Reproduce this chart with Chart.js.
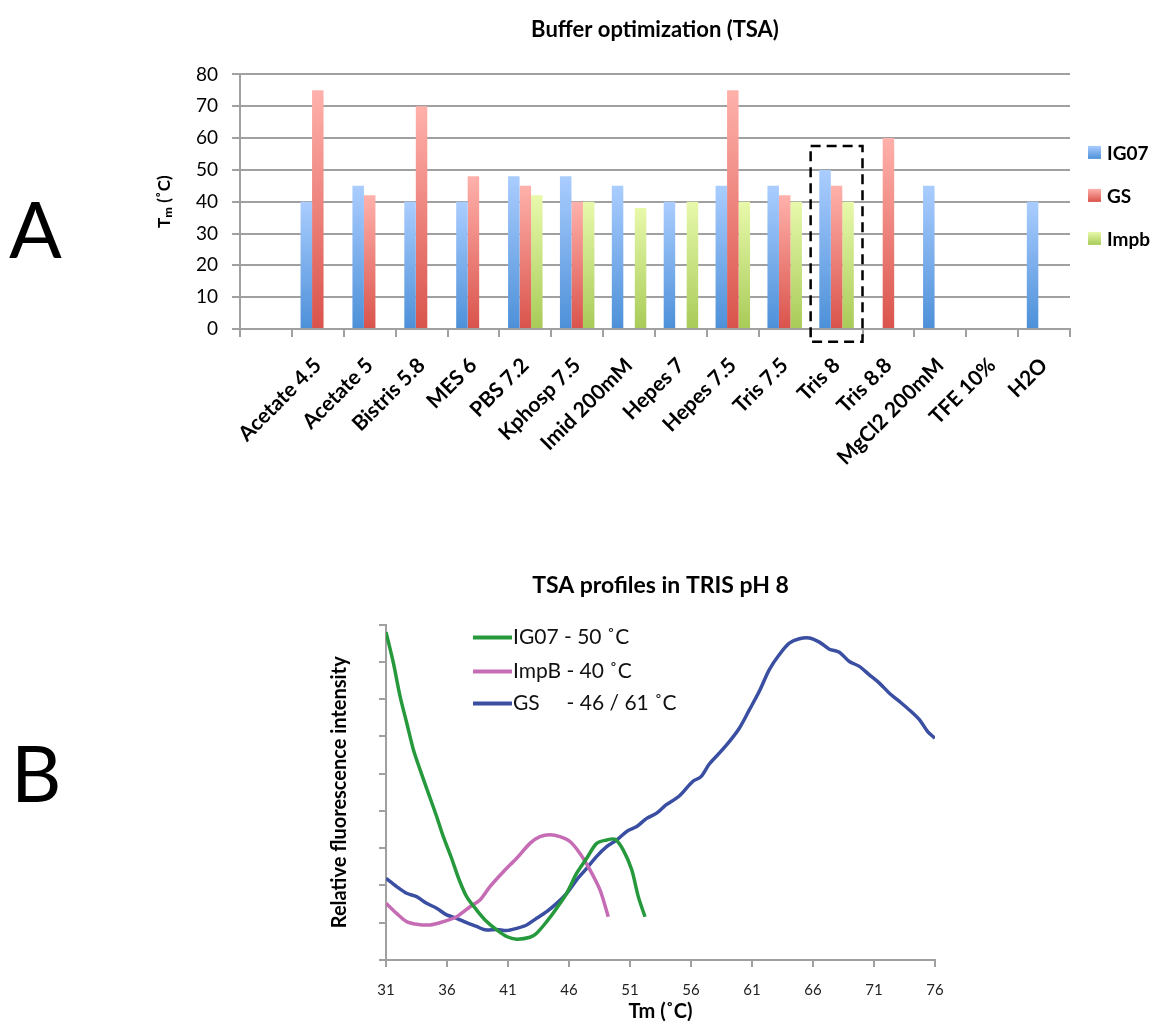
<!DOCTYPE html>
<html>
<head>
<meta charset="utf-8">
<script src="https://cdn.jsdelivr.net/npm/chart.js@4.4.1/dist/chart.umd.min.js"></script>
<style>
  html, body { margin: 0; padding: 0; background: #ffffff; }
  body { width: 1160px; height: 1024px; position: relative; overflow: hidden; font-family: Lato, "Open Sans", sans-serif; }
  .panel-letter { position: absolute; font-family: Lato, sans-serif; font-size: 78px; line-height: 1; color: #000; }
  #wrapA { position: absolute; left: 0; top: 0; width: 1160px; height: 480px; }
  #wrapB { position: absolute; left: 0; top: 480px; width: 1160px; height: 544px; }
</style>
</head>
<body>
<div class="panel-letter" style="left:9px; top:189px;">A</div>
<div class="panel-letter" style="left:11px; top:733px;">B</div>
<div id="wrapA"><canvas id="chartA" width="1160" height="480"></canvas></div>
<div id="wrapB"><canvas id="chartB" width="1160" height="544"></canvas></div>
<script>
// ---------- Panel A data ----------
const categories = ['', 'Acetate 4.5', 'Acetate 5', 'Bistris 5.8', 'MES 6', 'PBS 7.2', 'Kphosp 7.5', 'Imid 200mM', 'Hepes 7', 'Hepes 7.5', 'Tris 7.5', 'Tris 8', 'Tris 8.8', 'MgCl2 200mM', 'TFE 10%', 'H2O'];
const ig07Tm = [null, 40, 45, 40, 40, 48, 48, 45, 40, 45, 45, 50, null, 45, null, 40];
const gsTm   = [null, 75, 42, 70, 48, 45, 40, null, null, 75, 42, 45, 60, null, null, null];
const impbTm = [null, null, null, null, null, 42, 40, 38, 40, 40, 40, 40, null, null, null, null];
const seriesNamesA = ['IG07', 'GS', 'Impb'];
const highlightCategory = 'Tris 8';
const highlightRange = [57.5, -4];

// ---------- Panel B data ----------
const ig07Temp = [31, 31.6, 32.15, 32.7, 33.24, 33.79, 34.47, 35.15, 35.7, 36.35, 37.0, 37.61, 38.43, 39.25, 40.07, 40.89, 41.71, 42.8, 43.35, 44.17, 44.99, 45.81, 46.63, 47.45, 48.27, 49.09, 49.77, 50.45, 51.14, 51.68, 52.23];
const ig07Fluo = [8.8, 7.98, 7.08, 6.36, 5.65, 5.11, 4.48, 3.85, 3.31, 2.75, 2.15, 1.70, 1.34, 1.03, 0.81, 0.63, 0.56, 0.61, 0.72, 1.03, 1.39, 1.79, 2.33, 2.73, 3.13, 3.22, 3.24, 2.95, 2.42, 1.70, 1.16];
const impbTemp = [31, 31.87, 32.69, 33.51, 34.61, 35.7, 36.79, 37.89, 38.7, 39.52, 40.62, 41.71, 42.8, 43.62, 44.44, 45.26, 46.08, 46.9, 47.72, 48.54, 49.22];
const impbFluo = [1.52, 1.25, 1.03, 0.96, 0.94, 1.03, 1.16, 1.43, 1.61, 1.97, 2.37, 2.73, 3.13, 3.31, 3.36, 3.31, 3.18, 2.86, 2.42, 1.88, 1.16];
const gsTemp = [31, 31.87, 32.69, 33.51, 34.33, 35.15, 35.97, 36.79, 37.61, 38.43, 39.11, 40.07, 40.89, 41.71, 42.53, 43.35, 44.17, 44.99, 45.81, 46.63, 47.45, 48.27, 49.09, 49.91, 50.73, 51.55, 52.37, 53.19, 53.95, 55.04, 56.14, 56.82, 57.5, 58.32, 59.14, 59.96, 60.78, 61.6, 62.42, 63.23, 64.06, 64.88, 65.7, 66.52, 67.34, 68.16, 68.98, 69.8, 70.62, 71.44, 72.26, 73.08, 73.9, 74.72, 75.4, 76];
const gsFluo = [2.19, 1.97, 1.79, 1.70, 1.52, 1.39, 1.21, 1.12, 1.00, 0.90, 0.81, 0.82, 0.79, 0.85, 0.94, 1.12, 1.30, 1.52, 1.79, 2.15, 2.46, 2.78, 3.04, 3.22, 3.45, 3.58, 3.80, 3.94, 4.16, 4.40, 4.79, 4.92, 5.26, 5.55, 5.86, 6.22, 6.71, 7.21, 7.79, 8.19, 8.50, 8.62, 8.64, 8.53, 8.34, 8.26, 8.01, 7.88, 7.65, 7.43, 7.16, 6.94, 6.71, 6.45, 6.13, 5.95];
const seriesNamesB = ['IG07 - 50 ˚C', 'ImpB - 40 ˚C', 'GS     - 46 / 61 ˚C'];
const xTicksB = [31, 36, 41, 46, 51, 56, 61, 66, 71, 76];

// ---------- helpers ----------
const FONT = 'Lato, "Open Sans", sans-serif';
function barGradient(topColor, bottomColor) {
  return function (ctx) {
    const chart = ctx.chart;
    if (!chart.chartArea || ctx.type !== 'data' || ctx.raw == null) return bottomColor;
    const ys = chart.scales.y;
    const y0 = ys.getPixelForValue(ctx.raw);
    const y1 = ys.getPixelForValue(0);
    if (!isFinite(y0) || !isFinite(y1) || y0 === y1) return bottomColor;
    const g = chart.ctx.createLinearGradient(0, y0, 0, y1);
    g.addColorStop(0, topColor);
    g.addColorStop(1, bottomColor);
    return g;
  };
}
const barTopColors = ['#aacdff', '#ffb1ab', '#e8f9ab'];
const barBottomColors = ['#4d90d8', '#d9534b', '#a8cb58'];

function alignChartArea(chart, left, right) {
  const a = chart.chartArea;
  const p = chart.config.options.layout.padding;
  p.left += left - a.left;
  p.right += a.right - right;
  chart.update();
}

const dashedBoxPlugin = {
  id: 'dashedBox',
  afterDraw(chart) {
    const xs = chart.scales.x, ys = chart.scales.y;
    const idx = categories.indexOf(highlightCategory);
    if (idx < 0) return;
    const cx = xs.getPixelForValue(idx);
    const half = (xs.getPixelForValue(1) - xs.getPixelForValue(0)) / 2;
    const top = ys.getPixelForValue(highlightRange[0]);
    const bottom = ys.getPixelForValue(highlightRange[1]);
    const c = chart.ctx;
    c.save();
    c.strokeStyle = '#000';
    c.lineWidth = 2.5;
    c.setLineDash([10, 6]);
    c.strokeRect(cx - half, top, half * 2, bottom - top);
    c.restore();
  }
};

const sideLegendPlugin = {
  id: 'sideLegend',
  afterDraw(chart) {
    const c = chart.ctx;
    const area = chart.chartArea;
    const rows = [78, 121, 164];
    c.save();
    chart.data.datasets.forEach((ds, i) => {
      const y = area.top + rows[i];
      const bx = area.right + 18;
      const g = c.createLinearGradient(0, y - 6.5, 0, y + 6.5);
      g.addColorStop(0, barTopColors[i]);
      g.addColorStop(1, barBottomColors[i]);
      c.fillStyle = g;
      c.fillRect(bx, y - 6.5, 13, 13);
      c.fillStyle = '#000';
      c.font = 'bold 19px ' + FONT;
      c.textBaseline = 'middle';
      c.textAlign = 'left';
      c.fillText(ds.label, bx + 19, y + 1);
    });
    c.restore();
  }
};

const chartA = new Chart(document.getElementById('chartA'), {
  type: 'bar',
  data: {
    labels: categories,
    datasets: [
      { label: seriesNamesA[0], data: ig07Tm, backgroundColor: barGradient(barTopColors[0], barBottomColors[0]) },
      { label: seriesNamesA[1], data: gsTm, backgroundColor: barGradient(barTopColors[1], barBottomColors[1]) },
      { label: seriesNamesA[2], data: impbTm, backgroundColor: barGradient(barTopColors[2], barBottomColors[2]) }
    ]
  },
  options: {
    responsive: false,
    animation: false,
    layout: { padding: { left: 150, right: 90, top: 0, bottom: 0 } },
    datasets: { bar: { categoryPercentage: 0.665, barPercentage: 1.0, borderWidth: 0 } },
    plugins: {
      title: {
        display: true, fullSize: false,
        text: 'Buffer optimization (TSA)',
        color: '#000',
        font: { family: FONT, size: 22, weight: 'bold', lineHeight: 1.2 },
        padding: { top: 17, bottom: 31 }
      },
      legend: { display: false },
      tooltip: { enabled: false }
    },
    scales: {
      x: {
        offset: true,
        grid: { display: true, drawOnChartArea: false, drawTicks: true, tickLength: 8, offset: true, color: '#a0a0a0', lineWidth: 2 },
        border: { display: true, color: '#a0a0a0', width: 2 },
        ticks: {
          autoSkip: false, maxRotation: 45, minRotation: 45, padding: 16,
          color: '#000', font: { family: FONT, size: 21, weight: 'bold' }
        },
        afterFit(scale) { scale.height = 151; }
      },
      y: {
        min: 0, max: 80,
        ticks: { stepSize: 10, padding: 14, color: '#000', font: { family: FONT, size: 19 } },
        grid: { display: true, drawTicks: true, tickLength: 8, color: '#a0a0a0', lineWidth: 2 },
        border: { display: true, color: '#a0a0a0', width: 2 },
        title: {
          display: true, text: 'Tₘ (˚C)', color: '#000',
          font: { family: FONT, size: 17, weight: 'bold' }, padding: { top: 4, bottom: 4 }
        },
        afterFit(scale) { scale.width = 90; }
      }
    }
  },
  plugins: [dashedBoxPlugin, sideLegendPlugin]
});
alignChartArea(chartA, 240, 1070);

// ---------- Panel B ----------
const lineColorsB = ['#25993c', '#c56cb4', '#3a4ea2'];
const innerLegendPlugin = {
  id: 'innerLegend',
  afterDraw(chart) {
    const c = chart.ctx;
    const area = chart.chartArea;
    const rows = [13, 47, 79];
    c.save();
    chart.data.datasets.forEach((ds, i) => {
      const y = area.top + rows[i];
      c.strokeStyle = ds.borderColor;
      c.lineWidth = 4;
      c.beginPath();
      c.moveTo(area.left + 87, y);
      c.lineTo(area.left + 126, y);
      c.stroke();
      c.fillStyle = '#111';
      c.font = '21px ' + FONT;
      c.textBaseline = 'middle';
      c.textAlign = 'left';
      c.fillText(ds.label, area.left + 127, y);
    });
    c.restore();
  }
};

function toPoints(xs, ys) { return xs.map((x, i) => ({ x: x, y: ys[i] })); }

const chartB = new Chart(document.getElementById('chartB'), {
  type: 'line',
  data: {
    datasets: [
      { label: seriesNamesB[0], data: toPoints(ig07Temp, ig07Fluo), borderColor: lineColorsB[0] },
      { label: seriesNamesB[1], data: toPoints(impbTemp, impbFluo), borderColor: lineColorsB[1] },
      { label: seriesNamesB[2], data: toPoints(gsTemp, gsFluo), borderColor: lineColorsB[2] }
    ]
  },
  options: {
    responsive: false,
    animation: false,
    layout: { padding: { left: 326, right: 225, top: 0, bottom: 0 } },
    elements: {
      line: { borderWidth: 3.5, tension: 0.3, fill: false },
      point: { radius: 0 }
    },
    plugins: {
      title: {
        display: true, fullSize: false,
        text: 'TSA profiles in TRIS pH 8',
        color: '#000',
        font: { family: FONT, size: 23, weight: 'bold', lineHeight: 1.2 },
        padding: { top: 92, bottom: 25 }
      },
      legend: { display: false },
      tooltip: { enabled: false }
    },
    scales: {
      x: {
        type: 'linear', min: 31, max: 76,
        afterBuildTicks(scale) { scale.ticks = xTicksB.map(v => ({ value: v })); },
        grid: { display: true, drawOnChartArea: false, drawTicks: true, tickLength: 7, color: '#a0a0a0', lineWidth: 2 },
        border: { display: true, color: '#a0a0a0', width: 2 },
        ticks: { padding: 14, color: '#222', font: { family: FONT, size: 15 } },
        title: {
          display: true, text: 'Tm (˚C)', color: '#000',
          font: { family: FONT, size: 20, weight: 'bold' }, padding: { top: 0, bottom: 0 }
        },
        afterFit(scale) { scale.height = 64; }
      },
      y: {
        min: 0, max: 9,
        ticks: { stepSize: 1, callback: () => '', padding: 0 },
        grid: { display: true, drawOnChartArea: false, drawTicks: true, tickLength: 7, color: '#a0a0a0', lineWidth: 2 },
        border: { display: true, color: '#a0a0a0', width: 2 },
        title: {
          display: true, text: 'Relative fluorescence intensity', color: '#000',
          font: { family: FONT, size: 20, weight: 'bold' }, padding: { top: 2, bottom: 2 }
        },
        afterFit(scale) { scale.width = 60; }
      }
    }
  },
  plugins: [innerLegendPlugin]
});
alignChartArea(chartB, 386, 935);
</script>
</body>
</html>
